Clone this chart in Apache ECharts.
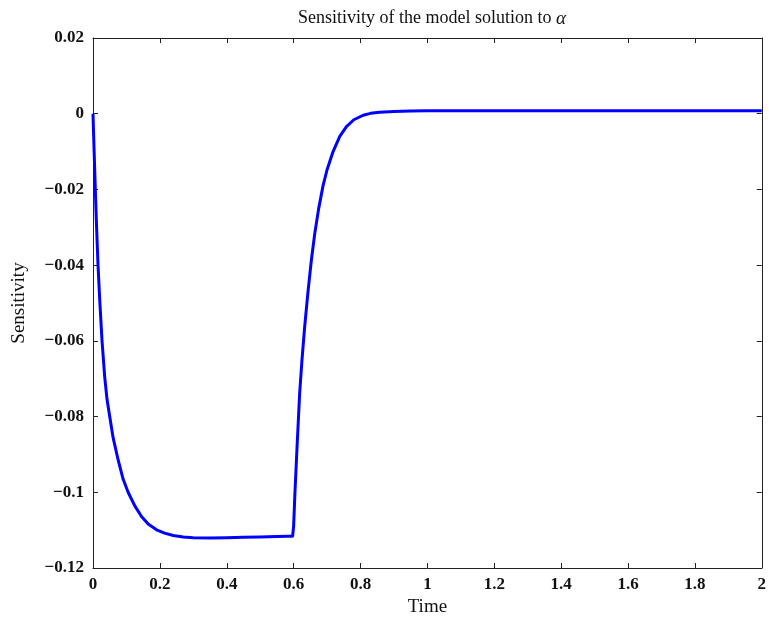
<!DOCTYPE html>
<html>
<head>
<meta charset="utf-8">
<script src="https://cdn.jsdelivr.net/npm/echarts@6/dist/echarts.min.js"></script>
<style>
  html, body { margin: 0; padding: 0; background: #fff; }
  #main { width: 769px; height: 622px; }
</style>
</head>
<body>
<div id="main"></div>
<script>
// time points and sensitivity values
var timeVals = [0, 0.002, 0.005, 0.007, 0.010, 0.015, 0.020, 0.027, 0.035, 0.042, 0.050, 0.060, 0.075, 0.090, 0.105, 0.125, 0.145, 0.165, 0.19, 0.214, 0.24, 0.27, 0.30, 0.35, 0.40, 0.45, 0.50, 0.55, 0.58, 0.597,
  0.600, 0.604, 0.610, 0.618, 0.625, 0.633, 0.643, 0.653, 0.663, 0.675, 0.688, 0.700, 0.718, 0.738, 0.758, 0.780, 0.808, 0.830, 0.857, 0.90, 0.95, 1.0, 1.2, 1.5, 2.0];
var sensVals = [0, -0.006, -0.0145, -0.0202, -0.0283, -0.040, -0.049, -0.060, -0.0695, -0.0755, -0.080, -0.0855, -0.0914, -0.0965, -0.100, -0.1036, -0.1064, -0.1084, -0.1099, -0.1108, -0.1114, -0.1118, -0.1120, -0.1121, -0.1120, -0.1119, -0.1118, -0.1117, -0.1116, -0.1116,
  -0.109, -0.100, -0.0885, -0.0739, -0.0650, -0.0563, -0.0470, -0.0387, -0.0318, -0.0250, -0.0190, -0.0148, -0.0100, -0.0060, -0.0034, -0.0016, -0.0004, 0.0001, 0.0004, 0.0006, 0.0007, 0.0008, 0.0008, 0.0008, 0.0008];

var xMin = 0, xMax = 2, xStep = 0.2;
var yMin = -0.12, yMax = 0.02, yStep = 0.02;

var pts = [];
for (var i = 0; i < timeVals.length; i++) {
  pts.push([timeVals[i], sensVals[i]]);
}

var serif = 'Liberation Serif';
var lineCol = '#222';

function fmtY(v) {
  var s = (+v.toFixed(2)).toString();
  return s.replace('-', '\u2212');
}
function fmtX(v) {
  return (+v.toFixed(1)).toString();
}

var myChart = echarts.init(document.getElementById('main'));
var option = {
  backgroundColor: '#fff',
  animation: false,
  title: {
    text: 'Sensitivity of the model solution to {a|α}',
    left: 427, top: 4, textAlign: 'center',
    textStyle: {
      fontFamily: serif, fontSize: 18, fontWeight: 'normal', color: '#111',
      rich: { a: { fontFamily: serif, fontStyle: 'italic', fontSize: 19, color: '#111' } }
    }
  },
  grid: { left: 93, right: 7, top: 38, bottom: 54 },
  xAxis: [{
    type: 'value', min: xMin, max: xMax, interval: xStep,
    name: 'Time', nameLocation: 'middle', nameGap: 30,
    nameTextStyle: { fontFamily: serif, fontSize: 19, color: '#111' },
    axisLine: { onZero: false, lineStyle: { color: lineCol, width: 1 } },
    axisTick: { inside: true, length: 5, lineStyle: { color: lineCol } },
    axisLabel: { fontFamily: serif, fontSize: 17, fontWeight: 'bold', color: '#111', margin: 8, formatter: fmtX },
    splitLine: { show: false }
  }, {
    type: 'value', min: xMin, max: xMax, interval: xStep, position: 'top',
    axisLine: { onZero: false, lineStyle: { color: lineCol, width: 1 } },
    axisTick: { inside: true, length: 5, lineStyle: { color: lineCol } },
    axisLabel: { show: false }, splitLine: { show: false }
  }],
  yAxis: [{
    type: 'value', min: yMin, max: yMax, interval: yStep,
    name: 'Sensitivity', nameLocation: 'middle', nameGap: 64,
    nameTextStyle: { fontFamily: serif, fontSize: 19, color: '#111' },
    axisLine: { show: true, onZero: false, lineStyle: { color: lineCol, width: 1 } },
    axisTick: { show: true, inside: true, length: 5, lineStyle: { color: lineCol } },
    axisLabel: { fontFamily: serif, fontSize: 17, fontWeight: 'bold', color: '#111', margin: 9, formatter: fmtY },
    splitLine: { show: false }
  }, {
    type: 'value', min: yMin, max: yMax, interval: yStep, position: 'right',
    axisLine: { show: true, onZero: false, lineStyle: { color: lineCol, width: 1 } },
    axisTick: { show: true, inside: true, length: 5, lineStyle: { color: lineCol } },
    axisLabel: { show: false }, splitLine: { show: false }
  }],
  series: [{
    type: 'line',
    data: pts,
    xAxisIndex: 0, yAxisIndex: 0,
    showSymbol: false,
    smooth: false,
    lineStyle: { color: '#0000ff', width: 3, join: 'round' }
  }]
};
myChart.setOption(option);
</script>
</body>
</html>
